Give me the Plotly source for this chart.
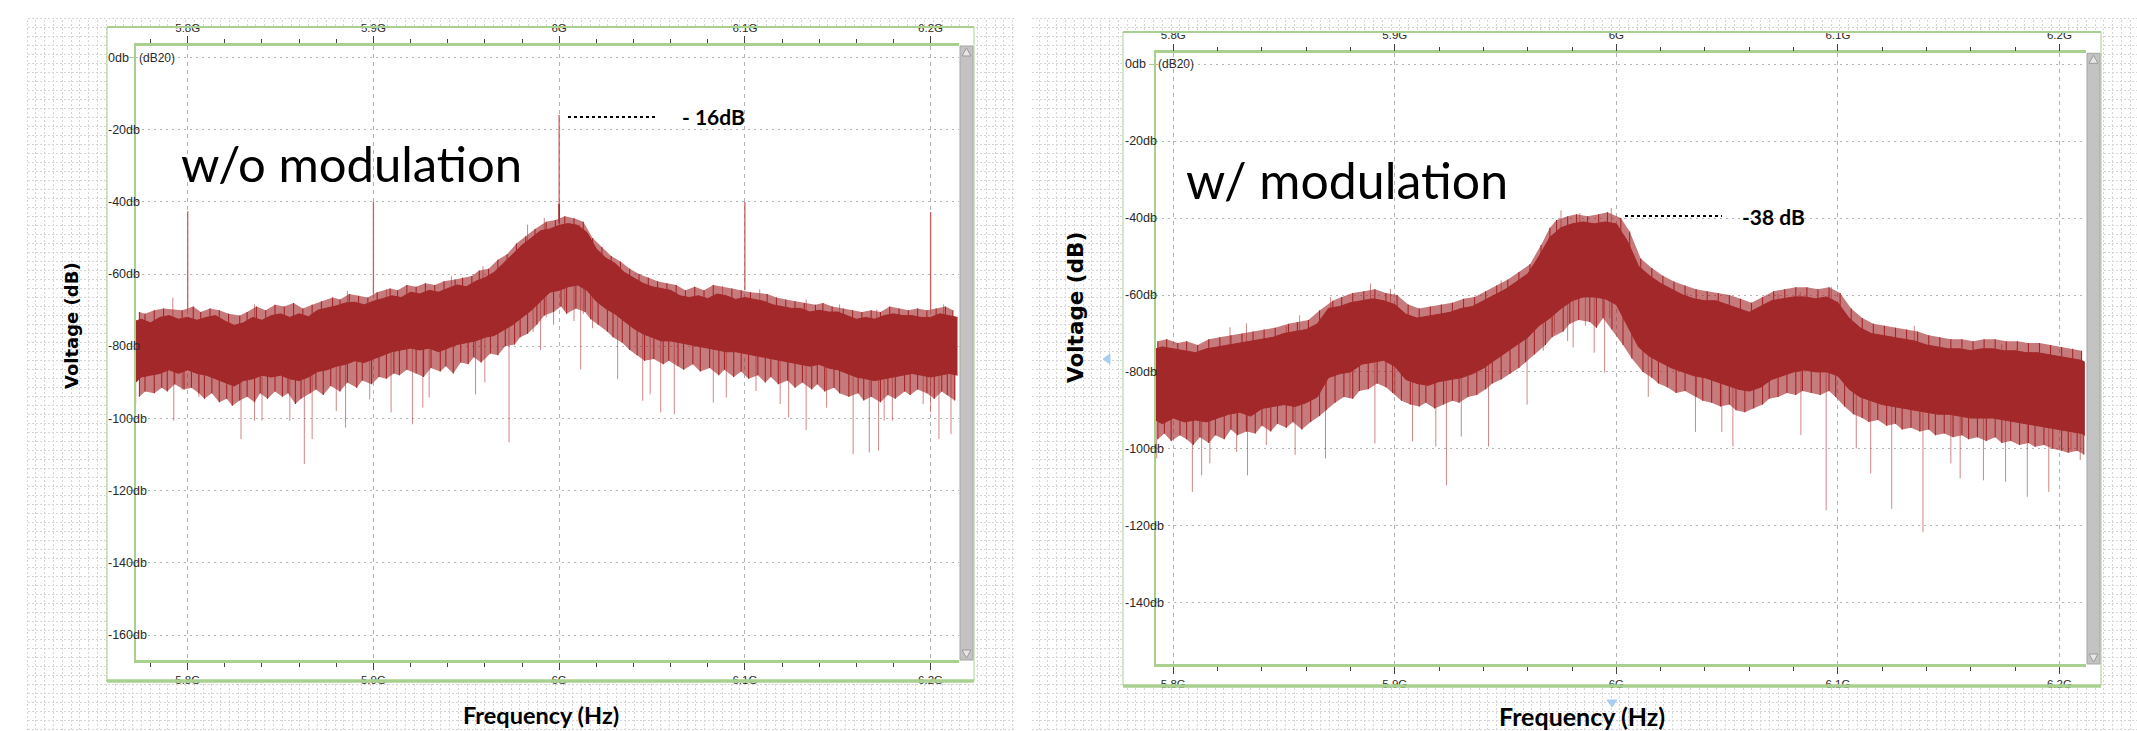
import plotly.graph_objects as go
import numpy as np

W, H = 2137, 731


def px(x):
    return x / W


def py(y):
    return 1 - y / H


# ---------------- data ----------------
x_ticks = [5.8, 5.9, 6.0, 6.1, 6.2]
x_labels = ['5.8G', '5.9G', '6G', '6.1G', '6.2G']
y_ticks_a = [0, -20, -40, -60, -80, -100, -120, -140, -160]
y_ticks_b = [0, -20, -40, -60, -80, -100, -120, -140]

# ---- left panel: w/o modulation ----
freq_a = [5.772, 5.775, 5.780, 5.785, 5.790, 5.795, 5.800, 5.805, 5.810, 5.815,
          5.820, 5.825, 5.830, 5.835, 5.840, 5.845, 5.850, 5.855, 5.860, 5.865,
          5.870, 5.875, 5.880, 5.885, 5.890, 5.895, 5.900, 5.905, 5.910, 5.915,
          5.920, 5.925, 5.930, 5.935, 5.940, 5.945, 5.950, 5.955, 5.960, 5.965,
          5.970, 5.975, 5.980, 5.985, 5.990, 5.995, 6.000, 6.005, 6.010, 6.015,
          6.020, 6.025, 6.030, 6.035, 6.040, 6.045, 6.050, 6.055, 6.060, 6.065,
          6.070, 6.075, 6.080, 6.085, 6.090, 6.095, 6.100, 6.105, 6.110, 6.115,
          6.120, 6.125, 6.130, 6.135, 6.140, 6.145, 6.150, 6.155, 6.160, 6.165,
          6.170, 6.175, 6.180, 6.185, 6.190, 6.195, 6.200, 6.205, 6.210, 6.2145]
upper_a = [-73.0, -72.5, -73.5, -72.0, -71.5, -72.5, -72.0, -72.8, -72.0, -71.5,
           -73.0, -74.2, -73.5, -72.0, -72.8, -71.5, -71.0, -72.0, -71.0, -71.8,
           -70.0, -69.5, -68.8, -68.0, -67.8, -68.5, -67.5, -66.8, -66.0, -66.5,
           -65.0, -65.5, -64.5, -65.0, -64.0, -63.0, -63.5, -62.0, -61.0, -59.5,
           -57.0, -54.5, -52.0, -50.0, -48.0, -47.5, -46.5, -46.0, -46.5, -48.5,
           -53.0, -55.5, -57.0, -59.5, -61.0, -62.5, -63.5, -64.0, -64.5, -66.0,
           -66.5, -66.0, -66.8, -65.5, -66.0, -67.0, -66.5, -67.0, -67.5, -68.5,
           -69.0, -69.5, -69.5, -70.5, -70.0, -70.5, -70.5, -71.5, -72.5, -72.0,
           -72.5, -71.5, -71.0, -71.5, -71.5, -72.0, -72.0, -71.0, -71.5, -72.0]
lower_a = [-90.0, -88.5, -88.0, -87.5, -86.5, -87.5, -86.5, -87.5, -88.0, -89.0,
           -90.0, -91.0, -89.5, -89.0, -88.0, -88.5, -88.0, -89.0, -89.5, -88.5,
           -87.0, -86.5, -85.5, -85.0, -84.0, -84.5, -83.5, -82.5, -81.5, -81.0,
           -80.5, -81.0, -80.5, -81.5, -80.5, -79.5, -79.0, -78.5, -77.5, -77.0,
           -75.5, -74.0, -72.0, -70.0, -67.5, -65.0, -64.5, -63.5, -63.0, -64.5,
           -67.5, -69.5, -71.0, -73.0, -75.0, -76.5, -77.5, -78.5, -78.5, -79.0,
           -79.5, -80.0, -80.5, -81.0, -81.5, -81.5, -82.0, -82.5, -83.0, -83.5,
           -84.0, -84.5, -85.0, -85.5, -85.0, -86.0, -86.5, -87.5, -88.5, -89.0,
           -89.5, -89.0, -88.5, -88.0, -87.5, -88.0, -88.5, -88.0, -87.5, -88.0]
# dark short spikes above / below the dense band
hi_freq_a = [5.774, 5.777, 5.782, 5.787, 5.797, 5.803, 5.807, 5.812, 5.817, 5.822,
             5.828, 5.832, 5.837, 5.842, 5.847, 5.852, 5.857, 5.862, 5.867, 5.872,
             5.878, 5.882, 5.887, 5.892, 5.897, 5.902, 5.909, 5.913, 5.918, 5.923,
             5.928, 5.933, 5.938, 5.944, 5.948, 5.953, 5.957, 5.962, 5.967, 5.972,
             5.977, 5.982, 5.987, 5.993, 5.998, 6.003, 6.008, 6.013, 6.018, 6.023,
             6.028, 6.033, 6.038, 6.043, 6.048, 6.053, 6.058, 6.063, 6.068, 6.073,
             6.078, 6.083, 6.093, 6.098, 6.103, 6.112, 6.117, 6.122, 6.127, 6.132,
             6.138, 6.142, 6.147, 6.153, 6.158, 6.163, 6.168, 6.173, 6.178, 6.183,
             6.188, 6.193, 6.198, 6.203, 6.208, 6.212]
hi_db_a = [-70.5, -71.0, -70.0, -69.5, -70.0, -69.0, -70.5, -69.5, -70.0, -71.0,
           -71.5, -70.5, -69.0, -70.0, -68.5, -69.0, -68.0, -69.5, -68.5, -67.5,
           -66.5, -67.0, -65.5, -66.0, -66.5, -65.0, -64.0, -64.5, -63.0, -63.5,
           -62.5, -63.0, -62.0, -61.5, -61.0, -60.5, -59.0, -58.5, -56.0, -54.5,
           -51.5, -49.5, -47.5, -45.5, -45.0, -44.0, -44.5, -45.5, -50.0, -52.5,
           -55.0, -56.5, -58.5, -60.0, -61.0, -62.0, -62.5, -63.0, -64.5, -63.5,
           -64.5, -63.0, -64.0, -64.5, -65.0, -65.5, -66.5, -67.0, -67.5, -68.0,
           -68.5, -68.0, -69.0, -69.5, -70.0, -70.5, -70.0, -70.5, -69.0, -69.5,
           -70.0, -69.5, -70.0, -69.5, -69.0, -70.0]
lo_freq_a = [5.774, 5.777, 5.782, 5.786, 5.789, 5.793, 5.798, 5.802, 5.806, 5.809,
             5.813, 5.817, 5.821, 5.824, 5.828, 5.832, 5.836, 5.839, 5.843, 5.847,
             5.851, 5.854, 5.858, 5.861, 5.866, 5.869, 5.873, 5.877, 5.882, 5.886,
             5.891, 5.894, 5.899, 5.903, 5.907, 5.911, 5.914, 5.918, 5.923, 5.927,
             5.931, 5.936, 5.939, 5.943, 5.947, 5.951, 5.954, 5.958, 5.963, 5.967,
             5.971, 5.976, 5.979, 5.983, 5.988, 5.992, 5.997, 6.001, 6.004, 6.009,
             6.014, 6.017, 6.021, 6.026, 6.029, 6.034, 6.038, 6.042, 6.046, 6.051,
             6.056, 6.059, 6.064, 6.067, 6.072, 6.076, 6.081, 6.086, 6.089, 6.094,
             6.098, 6.102, 6.107, 6.111, 6.114, 6.118, 6.123, 6.127, 6.131, 6.136,
             6.139, 6.143, 6.148, 6.151, 6.156, 6.161, 6.164, 6.168, 6.173, 6.177,
             6.181, 6.186, 6.189, 6.193, 6.198, 6.202, 6.206, 6.209, 6.213]
lo_db_a = [-94.0, -92.5, -93.0, -91.5, -92.5, -90.5, -92.0, -91.5, -93.0, -94.5,
           -93.0, -95.5, -94.5, -96.5, -95.0, -94.0, -95.5, -93.0, -94.5, -92.5,
           -94.0, -93.0, -96.0, -94.5, -93.0, -92.0, -93.5, -91.0, -92.5, -90.0,
           -91.5, -89.5, -90.5, -88.5, -89.0, -87.5, -88.0, -86.5, -87.5, -88.5,
           -86.0, -87.0, -85.5, -87.5, -84.5, -85.0, -83.0, -84.5, -82.0, -82.5,
           -80.0, -79.5, -77.5, -76.5, -74.0, -71.5, -70.5, -69.0, -71.0, -69.5,
           -70.5, -72.5, -74.0, -76.0, -77.5, -79.0, -81.0, -82.5, -84.0, -83.5,
           -85.0, -84.0, -85.5, -86.5, -85.0, -87.0, -86.0, -88.0, -86.5, -88.5,
           -87.0, -89.0, -88.0, -90.0, -88.5, -90.5, -89.5, -91.5, -90.0, -92.0,
           -90.5, -92.5, -91.5, -93.0, -94.0, -93.0, -95.0, -94.0, -95.5, -93.5,
           -94.5, -92.5, -93.5, -92.0, -93.0, -94.5, -92.5, -93.5, -95.0]
# long light spikes (deep dips and tall peaks)
dip_freq_a = [5.772, 5.7925, 5.797, 5.806, 5.8287, 5.836, 5.84, 5.855, 5.8628, 5.867, 5.88, 5.885,
              5.898, 5.9095, 5.921, 5.9266, 5.930, 5.955, 5.960, 5.973, 5.986, 5.990, 5.993, 5.997,
              6.003, 6.008, 6.0116, 6.013, 6.018, 6.0315, 6.045, 6.049, 6.0547, 6.062, 6.083, 6.090,
              6.106, 6.119, 6.1236, 6.133, 6.144, 6.1583, 6.167, 6.172, 6.175, 6.1794, 6.196, 6.200,
              6.2045, 6.211, 6.213]
dip_db_a = [-96.0, -100.6, -92.0, -94.0, -105.7, -100.6, -100.6, -100.6, -112.6, -105.7, -97.9, -102.5,
            -94.7, -98.3, -101.6, -97.0, -94.2, -93.3, -90.0, -106.6, -76.0, -81.0, -72.0, -74.0,
            -70.0, -73.0, -86.4, -71.0, -75.0, -89.1, -95.1, -93.3, -98.3, -98.8, -95.6, -94.2,
            -92.4, -96.0, -99.7, -103.2, -97.0, -109.9, -109.4, -108.9, -100.6, -100.6, -96.0, -98.3,
            -105.7, -104.3, -94.7]
peak_freq_a = [5.792, 5.836, 5.886, 5.907, 5.942, 5.959, 5.983, 5.992, 6.011, 6.088, 6.108, 6.133,
               6.151, 6.171, 6.207]
peak_db_a = [-66.5, -68.4, -64.7, -64.2, -60.5, -57.8, -46.3, -44.4, -46.3, -63.3, -64.2, -67.0,
             -68.4, -69.8, -68.4]
spur_freq_a = [5.8, 5.9, 6.0, 6.1, 6.2]
spur_top_a = [-42.6, -40.0, -15.9, -40.0, -42.8]

# ---- right panel: w/ modulation ----
freq_b = [5.792, 5.795, 5.800, 5.805, 5.810, 5.815, 5.820, 5.825, 5.830, 5.835,
          5.840, 5.845, 5.850, 5.855, 5.860, 5.865, 5.870, 5.875, 5.880, 5.885,
          5.890, 5.895, 5.900, 5.905, 5.910, 5.915, 5.920, 5.925, 5.930, 5.935,
          5.940, 5.945, 5.950, 5.955, 5.960, 5.965, 5.970, 5.975, 5.980, 5.985,
          5.990, 5.995, 6.000, 6.005, 6.010, 6.015, 6.020, 6.025, 6.030, 6.035,
          6.040, 6.045, 6.050, 6.055, 6.060, 6.065, 6.070, 6.075, 6.080, 6.085,
          6.090, 6.095, 6.100, 6.105, 6.110, 6.115, 6.120, 6.125, 6.130, 6.135,
          6.140, 6.145, 6.150, 6.155, 6.160, 6.165, 6.170, 6.175, 6.180, 6.185,
          6.190, 6.195, 6.200, 6.205, 6.210, 6.2115]
upper_b = [-74.0, -73.5, -74.0, -74.5, -75.0, -74.0, -73.5, -73.0, -72.5, -72.0,
           -71.5, -71.0, -70.0, -69.5, -69.0, -67.5, -63.5, -63.0, -62.0, -61.5,
           -61.0, -61.5, -62.5, -65.0, -66.0, -65.5, -65.0, -64.5, -63.5, -63.0,
           -61.5, -60.0, -58.5, -56.5, -54.5, -50.0, -45.0, -42.5, -41.5, -41.0,
           -41.5, -41.0, -41.5, -46.0, -52.5, -55.0, -57.0, -58.5, -60.0, -61.0,
           -61.5, -61.5, -62.5, -63.5, -64.5, -63.0, -61.5, -61.0, -60.5, -60.5,
           -61.0, -60.5, -62.0, -66.0, -68.5, -70.0, -70.5, -71.0, -71.5, -72.0,
           -73.0, -73.5, -74.0, -74.0, -74.5, -74.0, -74.0, -74.5, -74.5, -75.0,
           -75.0, -75.5, -76.0, -76.5, -77.0, -77.5]
lower_b = [-92.5, -93.5, -92.0, -93.0, -92.5, -93.0, -92.0, -91.0, -90.5, -91.5,
           -89.5, -89.0, -88.5, -89.0, -88.0, -86.5, -81.5, -80.5, -80.0, -78.0,
           -77.5, -77.0, -78.5, -82.0, -83.0, -83.5, -82.5, -82.0, -81.5, -80.5,
           -79.0, -77.0, -75.0, -73.0, -71.0, -68.0, -66.0, -63.5, -61.5, -60.5,
           -60.5, -61.0, -62.5, -68.0, -73.5, -76.0, -77.5, -79.0, -80.0, -81.0,
           -81.5, -82.5, -83.5, -84.5, -85.0, -84.0, -82.0, -81.0, -80.0, -79.5,
           -80.0, -80.0, -81.0, -84.5, -86.5, -87.5, -88.5, -89.0, -89.5, -90.0,
           -90.5, -91.0, -91.0, -91.5, -92.0, -92.0, -92.0, -92.5, -93.0, -93.5,
           -94.0, -94.5, -95.0, -95.5, -96.0, -96.5]
hi_freq_b = [5.793, 5.797, 5.802, 5.806, 5.811, 5.816, 5.821, 5.826, 5.831, 5.836,
             5.841, 5.846, 5.852, 5.856, 5.861, 5.866, 5.872, 5.876, 5.881, 5.886,
             5.891, 5.896, 5.901, 5.906, 5.911, 5.916, 5.921, 5.926, 5.931, 5.936,
             5.941, 5.946, 5.951, 5.956, 5.961, 5.966, 5.970, 5.973, 5.978, 5.982,
             5.987, 5.992, 5.996, 6.002, 6.006, 6.011, 6.016, 6.021, 6.026, 6.031,
             6.036, 6.041, 6.046, 6.051, 6.056, 6.061, 6.066, 6.071, 6.076, 6.081,
             6.086, 6.091, 6.096, 6.101, 6.106, 6.111, 6.116, 6.121, 6.126, 6.131,
             6.136, 6.141, 6.146, 6.151, 6.156, 6.161, 6.166, 6.171, 6.176, 6.181,
             6.186, 6.191, 6.196, 6.201, 6.206, 6.210]
hi_db_b = [-72.0, -71.5, -72.5, -72.0, -73.0, -71.5, -71.0, -70.5, -70.0, -69.5,
           -69.0, -68.5, -67.5, -67.0, -66.5, -64.0, -61.5, -60.5, -59.5, -59.0,
           -58.5, -59.5, -60.0, -62.5, -63.5, -63.0, -62.5, -62.0, -61.0, -60.5,
           -59.0, -57.5, -56.0, -54.0, -52.0, -47.0, -42.5, -40.5, -39.5, -39.0,
           -39.5, -39.0, -38.5, -40.0, -43.5, -50.5, -53.0, -55.0, -56.5, -57.5,
           -58.5, -59.0, -59.5, -60.0, -61.0, -62.0, -60.5, -59.0, -58.5, -58.0,
           -58.0, -58.5, -58.0, -59.5, -63.5, -66.0, -67.5, -68.0, -68.5, -69.0,
           -69.5, -70.5, -71.0, -71.5, -71.5, -72.0, -71.5, -71.5, -72.0, -72.0,
           -72.5, -72.5, -73.0, -73.5, -74.0, -74.5]
lo_freq_b = [5.793, 5.796, 5.799, 5.803, 5.806, 5.809, 5.812, 5.816, 5.819, 5.823,
             5.826, 5.829, 5.833, 5.837, 5.840, 5.844, 5.847, 5.851, 5.854, 5.858,
             5.862, 5.866, 5.869, 5.873, 5.877, 5.881, 5.884, 5.888, 5.892, 5.896,
             5.899, 5.903, 5.907, 5.911, 5.914, 5.918, 5.922, 5.926, 5.929, 5.933,
             5.937, 5.941, 5.944, 5.948, 5.952, 5.956, 5.959, 5.963, 5.968, 5.971,
             5.976, 5.979, 5.983, 5.988, 5.991, 5.994, 5.998, 6.003, 6.007, 6.012,
             6.016, 6.019, 6.023, 6.027, 6.031, 6.036, 6.039, 6.043, 6.047, 6.051,
             6.054, 6.058, 6.062, 6.066, 6.069, 6.073, 6.077, 6.081, 6.084, 6.088,
             6.092, 6.096, 6.099, 6.103, 6.107, 6.111, 6.114, 6.118, 6.122, 6.126,
             6.129, 6.133, 6.137, 6.141, 6.144, 6.148, 6.152, 6.156, 6.159, 6.163,
             6.167, 6.171, 6.174, 6.178, 6.182, 6.186, 6.189, 6.193, 6.197, 6.201,
             6.204, 6.208, 6.211]
lo_db_b = [-97.5, -96.0, -98.0, -96.5, -97.5, -99.0, -97.0, -98.5, -96.5, -97.5,
           -95.0, -96.5, -95.5, -96.0, -94.0, -95.5, -93.5, -94.5, -93.0, -95.0,
           -93.0, -91.5, -90.0, -88.0, -86.5, -87.0, -85.0, -84.5, -83.0, -84.0,
           -85.5, -87.5, -88.5, -89.0, -88.0, -89.5, -88.5, -87.5, -88.0, -86.5,
           -86.0, -84.5, -83.0, -82.0, -80.5, -79.0, -77.5, -75.5, -73.0, -71.0,
           -69.5, -67.5, -66.5, -67.0, -68.5, -66.0, -69.0, -73.0, -76.5, -80.0,
           -81.5, -83.0, -84.0, -85.5, -85.0, -86.5, -87.5, -88.0, -89.0, -88.5,
           -90.0, -90.5, -89.5, -88.5, -87.0, -86.5, -85.5, -86.0, -85.0, -85.5,
           -86.0, -85.0, -86.5, -89.0, -91.0, -92.0, -93.0, -92.5, -94.0, -93.5,
           -95.0, -94.5, -95.5, -95.0, -96.5, -96.0, -97.0, -96.5, -97.5, -97.0,
           -98.0, -97.0, -98.5, -98.0, -99.0, -98.5, -99.5, -99.0, -100.0, -100.5,
           -101.0, -100.5, -101.5]
dip_freq_b = [5.7925, 5.8086, 5.8128, 5.8165, 5.8286, 5.8335, 5.842, 5.855, 5.8687, 5.8797, 5.891, 5.90,
              5.908, 5.9185, 5.9233, 5.930, 5.9423, 5.9597, 5.967, 5.972, 5.978, 5.9805, 5.986, 5.990,
              5.9947, 5.997, 6.0144, 6.0357, 6.0476, 6.0526, 6.0833, 6.0947, 6.1083, 6.1148, 6.1243,
              6.1384, 6.151, 6.1552, 6.1657, 6.1757, 6.1855, 6.1952, 6.2052, 6.2094]
dip_db_b = [-102.5, -111.2, -106.9, -103.8, -100.8, -106.9, -99.0, -101.6, -102.5, -86.8, -98.6, -85.9,
            -98.1, -99.4, -109.5, -96.8, -99.4, -88.5, -74.5, -70.0, -72.0, -73.7, -68.0, -75.0,
            -80.2, -66.0, -86.5, -95.6, -95.6, -99.4, -96.4, -116.0, -99.9, -106.4, -115.6,
            -121.7, -103.8, -107.7, -108.2, -108.6, -112.5, -111.2, -100.3, -102.9]
peak_freq_b = [5.8256, 5.833, 5.851, 5.857, 5.871, 5.889, 5.898, 5.948, 5.975, 5.9835, 5.9977, 6.032,
               6.073, 6.083, 6.097, 6.1345, 6.174]
peak_db_b = [-68.4, -67.4, -68.0, -65.3, -60.5, -57.0, -58.4, -56.2, -38.0, -38.7, -37.4, -59.7,
             -59.7, -59.2, -57.9, -68.0, -72.8]

# ---------------- styling constants ----------------
RED = '#a3282a'
HALO = 'rgba(163,40,42,0.62)'
LIGHT = 'rgba(180,60,60,0.62)'
GREEN = '#a9d08e'
GRID = '#b3b3b3'
TXT = '#2a2a2a'


def segs(fx, y0, y1):
    xs, ys = [], []
    for f, a, b in zip(fx, y0, y1):
        xs += [f, f, None]
        ys += [a, b, None]
    return xs, ys


fig = go.Figure()

# ---- background texture (page grid), masked where the two screenshots are white ----
cover_rects = [(0, 0, 27, H), (0, 0, W, 18), (107, 27, 974, 682), (1123, 32, 2101, 688),
               (1015, 0, 1032, H)]
cx, cy = [], []
for (a, b, c, d) in cover_rects:
    cx += [a, c, c, a, a, None]
    cy += [b, b, d, d, b, None]
fig.add_trace(go.Scatter(x=cx, y=cy, mode='lines', fill='toself', fillcolor='white',
                         line=dict(width=0, color='white'), hoverinfo='skip',
                         xaxis='x', yaxis='y', showlegend=False))


def vlines(fx, start, end, color, width, xa, ya):
    xs, ys = segs(fx, start, end)
    fig.add_trace(go.Scatter(x=xs, y=ys, mode='lines', line=dict(color=color, width=width),
                             xaxis=xa, yaxis=ya, hoverinfo='skip', showlegend=False))


def panel(freq, upper, lower, hif, hiv, lof, lov, dipf, dipv, pkf, pkv, xa, ya):
    f = np.array(freq)
    lo = np.array(lower)
    up = np.array(upper)
    # long light spikes
    vlines(dipf, np.interp(dipf, f, lo) + 1.0, dipv, LIGHT, 1, xa, ya)
    vlines(pkf, np.interp(pkf, f, up) - 1.0, pkv, LIGHT, 1, xa, ya)
    # translucent halo spanning the short spikes
    fig.add_trace(go.Scatter(x=lof, y=lov, mode='lines', line=dict(width=0, color=HALO),
                             xaxis=xa, yaxis=ya, hoverinfo='skip', showlegend=False))
    fig.add_trace(go.Scatter(x=hif, y=hiv, mode='lines', line=dict(width=0, color=HALO),
                             fill='tonexty', fillcolor=HALO,
                             xaxis=xa, yaxis=ya, hoverinfo='skip', showlegend=False))
    # dark short spikes
    vlines(lof, np.interp(lof, f, lo) + 1.0, lov, RED, 1.1, xa, ya)
    vlines(hif, np.interp(hif, f, up) - 1.0, hiv, RED, 1.1, xa, ya)
    # dense band
    fig.add_trace(go.Scatter(x=freq, y=lower, mode='lines', line=dict(color=RED, width=1),
                             xaxis=xa, yaxis=ya, hoverinfo='skip', showlegend=False))
    fig.add_trace(go.Scatter(x=freq, y=upper, mode='lines', line=dict(color=RED, width=1),
                             fill='tonexty', fillcolor=RED,
                             xaxis=xa, yaxis=ya, hoverinfo='skip', showlegend=False))


panel(freq_a, upper_a, lower_a, hi_freq_a, hi_db_a, lo_freq_a, lo_db_a,
      dip_freq_a, dip_db_a, peak_freq_a, peak_db_a, 'x2', 'y2')
vlines(spur_freq_a, np.interp(spur_freq_a, freq_a, upper_a) + 2, spur_top_a,
       'rgba(200,80,80,0.9)', 1.3, 'x2', 'y2')
vlines([6.0], [-46.0], [-40.5], RED, 1.6, 'x2', 'y2')
panel(freq_b, upper_b, lower_b, hi_freq_b, hi_db_b, lo_freq_b, lo_db_b,
      dip_freq_b, dip_db_b, peak_freq_b, peak_db_b, 'x4', 'y4')
# invisible traces so that the top (overlay) axes exist
fig.add_trace(go.Scatter(x=[6.0], y=[0], mode='markers', marker=dict(opacity=0), xaxis='x3', yaxis='y2',
                         hoverinfo='skip', showlegend=False))
fig.add_trace(go.Scatter(x=[6.0], y=[0], mode='markers', marker=dict(opacity=0), xaxis='x5', yaxis='y4',
                         hoverinfo='skip', showlegend=False))

# ---------------- geometry ----------------
A = dict(x0=135.7, x1=959.0, y0=46.0, y1=660.0, xr=[5.772, 6.2153], yr=[-166.9, 3.19])
B = dict(x0=1155.7, x1=2086.0, y0=53.3, y1=664.0, xr=[5.79205, 6.2120], yr=[-155.97, 2.86])

FONT = 'Liberation Sans, Arial, sans-serif'
tickfont = dict(family=FONT, size=11.5, color=TXT)


def xaxis_def(P, side, anchor, overlay=None, grid=True):
    d = dict(domain=[px(P['x0']), px(P['x1'])], range=P['xr'], anchor=anchor, side=side,
             tickmode='array', tickvals=x_ticks, ticktext=x_labels, tickfont=tickfont,
             ticks='outside', ticklen=7, tickcolor='#444', tickwidth=1,
             minor=dict(dtick=0.02, tick0=5.8, ticks='outside', ticklen=4, tickcolor='#444', showgrid=False),
             showline=True, linecolor=GREEN, linewidth=2.5,
             showgrid=grid, gridcolor=GRID, griddash='4px,4px', gridwidth=1,
             zeroline=False, fixedrange=True)
    if overlay:
        d['overlaying'] = overlay
    return d


def yaxis_def(P, anchor, ticks):
    return dict(domain=[py(P['y1']), py(P['y0'])], range=P['yr'], anchor=anchor,
                tickmode='array', tickvals=ticks, showticklabels=False,
                ticks='outside', ticklen=5, tickcolor=GREEN,
                showline=True, linecolor=GREEN, linewidth=1.5,
                showgrid=True, gridcolor=GRID, griddash='2px,4px', gridwidth=1,
                zeroline=False, fixedrange=True)


fig.update_layout(
    width=W, height=H, margin=dict(l=0, r=0, t=0, b=0, pad=0),
    paper_bgcolor='white', plot_bgcolor='white', showlegend=False,
    xaxis=dict(domain=[0, 1], range=[0, W], tickmode='linear', tick0=27, dtick=8.8,
               showticklabels=False, ticks='', showgrid=True, gridcolor='#d6d6d6',
               griddash='2px,2px', zeroline=False, showline=False, fixedrange=True, anchor='y'),
    yaxis=dict(domain=[0, 1], range=[H, 0], tickmode='linear', tick0=18, dtick=9,
               showticklabels=False, ticks='', showgrid=True, gridcolor='#d6d6d6',
               griddash='2px,2px', zeroline=False, showline=False, fixedrange=True, anchor='x'),
    xaxis2=xaxis_def(A, 'bottom', 'y2'),
    yaxis2=yaxis_def(A, 'x2', y_ticks_a),
    xaxis3=xaxis_def(A, 'top', 'y2', overlay='x2', grid=False),
    xaxis4=xaxis_def(B, 'bottom', 'y4'),
    yaxis4=yaxis_def(B, 'x4', y_ticks_b),
    xaxis5=xaxis_def(B, 'top', 'y4', overlay='x4', grid=False),
)

shapes = []
ann = []


def line(x0, y0, x1, y1, color=GREEN, width=1.5, dash=None):
    d = dict(type='line', xref='paper', yref='paper', x0=px(x0), y0=py(y0), x1=px(x1), y1=py(y1),
             line=dict(color=color, width=width), layer='above')
    if dash:
        d['line']['dash'] = dash
    shapes.append(d)


def rect(x0, y0, x1, y1, fill, lc, lw=1):
    shapes.append(dict(type='rect', xref='paper', yref='paper', x0=px(x0), y0=py(y0), x1=px(x1),
                       y1=py(y1), fillcolor=fill, line=dict(color=lc, width=lw), layer='above'))


def tri(pts, fill, lc):
    path = 'M ' + ' L '.join(f'{px(a):.6f},{py(b):.6f}' for a, b in pts) + ' Z'
    shapes.append(dict(type='path', xref='paper', yref='paper', path=path, fillcolor=fill,
                       line=dict(color=lc, width=1), layer='above'))


def text(x, y, s, size, family='Lato, sans-serif', bold=False, xanchor='center', angle=0, color='black'):
    f = dict(family=family, size=size, color=color)
    if bold:
        f['weight'] = 'bold'
    ann.append(dict(x=px(x), y=py(y), xref='paper', yref='paper', text=s, showarrow=False,
                    xanchor=xanchor, yanchor='middle', textangle=angle, font=f))


# frames around the two screenshots
for (l, t, r, b) in [(107, 27, 974, 681), (1123, 32, 2101, 686)]:
    line(l, t, r, t, width=2)
    line(l, t, l, b, width=1)
    line(r, t, r, b, width=1)
    line(l, b, r, b, width=3.5)

# scrollbars
for (x0, x1, y0, y1) in [(960, 973, 46, 660), (2087, 2100, 53.3, 664)]:
    rect(x0, y0, x1, y1, '#c3c3c3', '#a5a5a5')
    xm = (x0 + x1) / 2
    tri([(xm, y0 + 2), (x0 + 2, y0 + 10), (x1 - 2, y0 + 10)], '#e6e6e6', '#9a9a9a')
    tri([(x0 + 2, y1 - 10), (x1 - 2, y1 - 10), (xm, y1 - 2)], '#e6e6e6', '#9a9a9a')

# small blue markers (right screenshot)
tri([(1103, 359), (1110, 354), (1110, 364)], '#a9cdf0', '#a9cdf0')
tri([(1607, 700), (1617, 700), (1612, 707)], '#a9cdf0', '#a9cdf0')

# y tick labels, left-aligned as in the original
for v in y_ticks_a:
    ann.append(dict(x=px(106), xref='paper', y=v, yref='y2', text=f'{v}db', showarrow=False,
                    xanchor='left', yanchor='middle', font=dict(family=FONT, size=12.5, color=TXT)))
for v in y_ticks_b:
    ann.append(dict(x=px(1123), xref='paper', y=v, yref='y4', text=f'{v}db', showarrow=False,
                    xanchor='left', yanchor='middle', font=dict(family=FONT, size=12.5, color=TXT)))
ann.append(dict(x=px(137), xref='paper', y=0, yref='y2', text='(dB20)', showarrow=False,
                xanchor='left', yanchor='middle', font=dict(family=FONT, size=12, color=TXT)))
ann.append(dict(x=px(1156), xref='paper', y=0, yref='y4', text='(dB20)', showarrow=False,
                xanchor='left', yanchor='middle', font=dict(family=FONT, size=12, color=TXT)))

# big labels and annotations
text(351, 163, 'w/o modulation', 49)
text(1347, 180, 'w/ modulation', 50)
text(680, 117, '- 16dB', 21, bold=True, xanchor='left')
text(1740, 216, '-38 dB', 21, bold=True, xanchor='left')
line(568, 117, 657, 117, color='black', width=2, dash='dot')
line(1625, 216, 1722, 216, color='black', width=2, dash='dot')

# axis titles
text(71, 326, 'Voltage (dB)', 18, family='DejaVu Sans, sans-serif', bold=True, angle=-90)
text(1076, 308, 'Voltage (dB)', 21.5, family='DejaVu Sans, sans-serif', bold=True, angle=-90)
text(541, 715, 'Frequency (Hz)', 23.5, bold=True)
text(1582, 716, 'Frequency (Hz)', 25, bold=True)

fig.update_layout(shapes=shapes, annotations=ann)
fig.write_html('out.html', config={'displayModeBar': False},
               post_script="document.body.style.margin='0';document.body.style.overflow='hidden';")
